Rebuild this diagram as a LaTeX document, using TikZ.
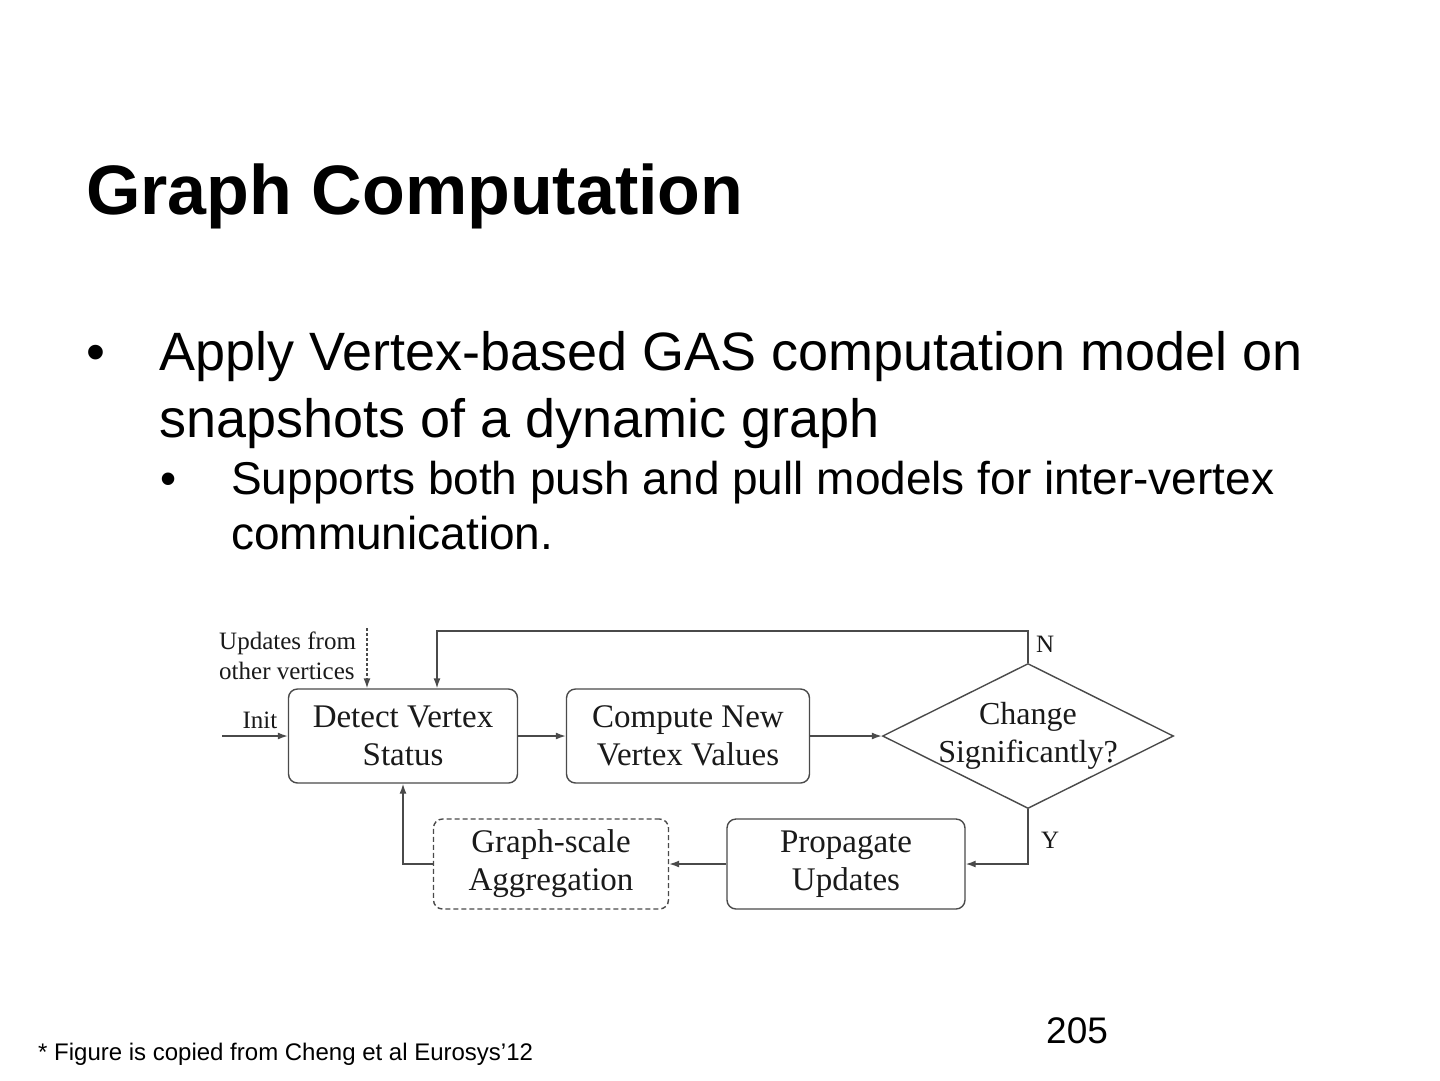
\documentclass[tikz,border=0pt]{standalone}
\usepackage{fontspec}
\setmainfont{Liberation Sans}
\newfontfamily\figfont{Liberation Serif}
\usetikzlibrary{shapes.geometric,arrows.meta,positioning}

\definecolor{linegray}{HTML}{4A4A4A}
\definecolor{figtext}{HTML}{1A1A1A}

\begin{document}
\begin{tikzpicture}[x=1pt, y=-1pt, inner sep=0pt,
    box/.style={rectangle, rounded corners=9pt, draw=linegray, line width=1.4pt,
        minimum height=94pt, align=center, text=figtext,
        font=\figfont\fontsize{33}{38}\selectfont},
    small/.style={text=figtext, font=\figfont\fontsize{25}{30}\selectfont},
    arr/.style={draw=linegray, line width=1.4pt, -{Latex[length=10pt,width=7pt]}},
    slide/.style={anchor=base west, font=\fontsize{54}{66}\selectfont},
    subslide/.style={anchor=base west, font=\fontsize{46}{55}\selectfont}]
    \useasboundingbox[fill=white] (0,0) rectangle (1440,1080);

    % Slide text
    \node (title) [anchor=base west, font=\bfseries\fontsize{70}{84}\selectfont] at (86,214) {Graph Computation};
    \node (dot1) [slide] at (86,370) {•};
    \node (line1) [slide] at (159,370) {Apply Vertex-based GAS computation model on};
    \node (line2) [slide] at (159,437) {snapshots of a dynamic graph};
    \node (dot2) [subslide] at (160,494) {•};
    \node (line3) [subslide] at (231,494) {Supports both push and pull models for inter-vertex};
    \node (line4) [subslide] at (231,549) {communication.};

    % Flow chart
    \node (detect) [box, minimum width=229pt] at (403,736) {Detect Vertex\\Status};
    \node (compute) [box, minimum width=243pt] at (688,736) {Compute New\\Vertex Values};
    \node (change) [diamond, draw=linegray, line width=1.4pt, minimum width=291pt, minimum height=145pt,
        label={[align=center, text=figtext, font=\figfont\fontsize{32}{38}\selectfont]center:Change\\Significantly?}] at (1028,736) {};
    \node (propagate) [box, minimum width=238pt, minimum height=90pt] at (846,864) {Propagate\\Updates};
    \node (aggregate) [box, dashed, dash pattern=on 5pt off 3pt, minimum width=235pt, minimum height=90pt] at (551,864) {Graph-scale\\Aggregation};

    % Inputs
    \node (updates) [small, anchor=west, align=left] at (219,656) {Updates from\\other vertices};
    \coordinate (updtop) at (367,628);
    \coordinate (initin) at (222,736);
    \node (init) [small, anchor=base] at (260,728) {Init};
    \coordinate (loop) at (437,631);

    % Connections
    \draw[arr, dashed, dash pattern=on 3pt off 2pt] (updtop) -- (updtop |- detect.north);
    \draw[arr] (initin) -- (detect);
    \draw[arr] (detect) -- (compute);
    \draw[arr] (compute) -- (change);
    \draw[arr] (change.north) |- (loop) -- (loop |- detect.north);
    \draw[arr] (change.south) |- (propagate.east);
    \draw[arr] (propagate) -- (aggregate);
    \draw[arr] (aggregate.west) -| (detect.south);
    \node (no) [small, anchor=base west] at (1036,652) {N};
    \node (yes) [small, anchor=base west] at (1041,848) {Y};

    % Footer
    \node (note) [anchor=base west, font=\fontsize{24}{28}\selectfont] at (38,1060) {* Figure is copied from Cheng et al Eurosys’12};
    \node (page) [anchor=base west, font=\fontsize{37}{44}\selectfont] at (1046,1043) {205};
\end{tikzpicture}
\end{document}
